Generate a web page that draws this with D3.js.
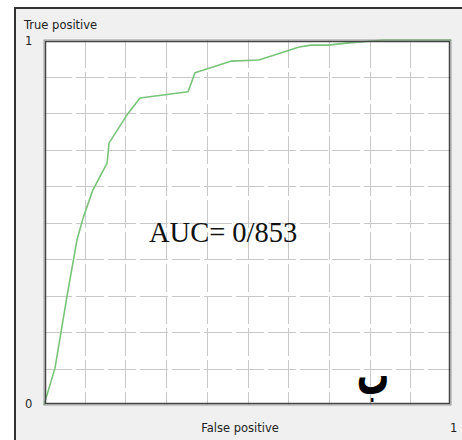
<!DOCTYPE html>
<html>
<head>
<meta charset="utf-8">
<script src="https://cdn.jsdelivr.net/npm/d3@7"></script>
<style>
html,body{margin:0;padding:0;background:#fff;}
svg{display:block;}
</style>
</head>
<body>
<svg id="c" width="462" height="440"></svg>
<script>
// Data
const fpr = [0, 0.027, 0.057, 0.081, 0.096, 0.120, 0.155, 0.160, 0.204, 0.236, 0.354, 0.371, 0.459, 0.528, 0.627, 0.656, 0.698, 0.749, 0.835, 1.0];
const tpr = [0, 0.101, 0.301, 0.452, 0.512, 0.589, 0.663, 0.718, 0.795, 0.841, 0.858, 0.910, 0.942, 0.945, 0.981, 0.986, 0.986, 0.992, 1.0, 1.0];
const gridTicks = [0.1, 0.2, 0.3, 0.4, 0.5, 0.6, 0.7, 0.8, 0.9];
const xLabel = "False positive";
const yLabel = "True positive";
const aucLabel = "AUC= 0/853";
const panelLabel = "ب";

const svg = d3.select("#c");
const L = 44, R = 451, T = 40, B = 405;
const x = d3.scaleLinear().domain([0, 1]).range([L, R]);
const y = d3.scaleLinear().domain([0, 1]).range([B, T]);

// outer panel
svg.append("rect").attr("x", 14).attr("y", 7).attr("width", 448).attr("height", 433).attr("fill", "#f0f0f0");
svg.append("line").attr("x1", 15).attr("x2", 15).attr("y1", 7).attr("y2", 440).attr("stroke", "#333").attr("stroke-width", 2);
svg.append("line").attr("x1", 14).attr("x2", 462).attr("y1", 8).attr("y2", 8).attr("stroke", "#333").attr("stroke-width", 2);

// plot background
svg.append("rect").attr("x", L).attr("y", T).attr("width", R - L).attr("height", B - T).attr("fill", "#fff");

// grid
const g = svg.append("g").attr("stroke", "#c8c8c8").attr("stroke-width", 1).attr("stroke-dasharray", "28,4");
g.selectAll(".vx").data(gridTicks).join("line")
  .attr("x1", d => Math.round(x(d)) + 0.5).attr("x2", d => Math.round(x(d)) + 0.5)
  .attr("y1", T).attr("y2", B);
g.selectAll(".hy").data(gridTicks).join("line")
  .attr("y1", d => Math.round(y(d)) + 0.5).attr("y2", d => Math.round(y(d)) + 0.5)
  .attr("x1", L).attr("x2", R);

// curve
const pts = fpr.map((f, i) => [f, tpr[i]]);
svg.append("path").datum(pts)
  .attr("fill", "none").attr("stroke", "#78c478").attr("stroke-width", 1.6)
  .attr("stroke-linejoin", "round")
  .attr("d", d3.line().x(d => x(d[0])).y(d => y(d[1])));

// frame
svg.append("rect").attr("x", L).attr("y", T).attr("width", R - L).attr("height", B - T)
  .attr("fill", "none").attr("stroke", "#9a9a9a").attr("stroke-width", 1);
svg.append("rect").attr("x", L + 1.5).attr("y", T + 1.5).attr("width", R - L - 3).attr("height", B - T - 3)
  .attr("fill", "none").attr("stroke", "#444").attr("stroke-width", 1.5);

// labels
const lab = svg.append("g").attr("font-family", "'DejaVu Sans', sans-serif").attr("font-size", 11.5).attr("fill", "#222");
lab.append("text").attr("x", 24).attr("y", 29).text(yLabel);
lab.append("text").attr("x", 25).attr("y", 45).text(d3.format("d")(y.domain()[1]));
lab.append("text").attr("x", 25).attr("y", 408).text(d3.format("d")(y.domain()[0]));
lab.append("text").attr("x", 240).attr("y", 432).attr("text-anchor", "middle").text(xLabel);
lab.append("text").attr("x", 450).attr("y", 432).text(d3.format("d")(x.domain()[1]));

svg.append("text").attr("x", 149).attr("y", 242)
  .attr("font-family", "'Liberation Serif', serif").attr("font-size", 28.5).attr("fill", "#111")
  .text(aucLabel);

svg.append("text").attr("transform", "translate(373,394) scale(0.9,1.5)").attr("text-anchor", "middle")
  .attr("font-family", "'DejaVu Sans', sans-serif").attr("font-weight", "bold").attr("font-size", 36).attr("fill", "#000")
  .text(panelLabel);
</script>
</body>
</html>
